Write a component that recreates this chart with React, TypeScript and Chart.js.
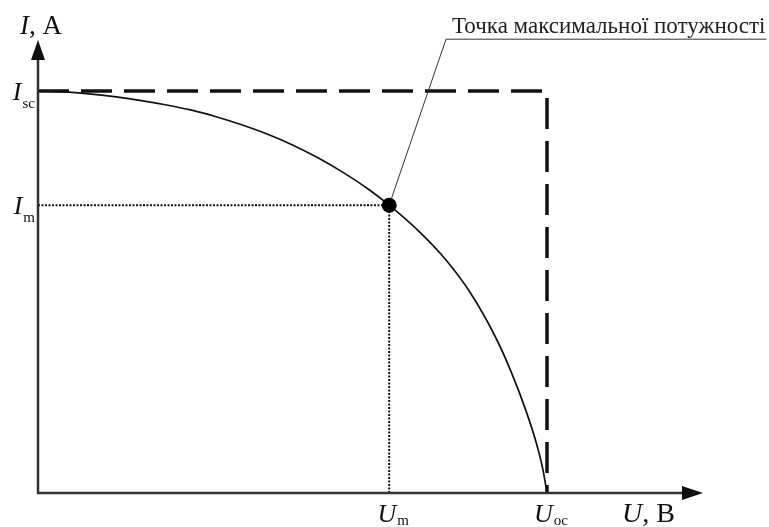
import { useEffect, useRef } from "react";
import { Chart, registerables } from "chart.js";
Chart.register(...registerables);

// I-V curve (normalised: Uoc = 1, Isc = 1)
const curveU = [0, 0.05, 0.1, 0.15, 0.2, 0.25, 0.3, 0.35, 0.4, 0.45, 0.5, 0.55, 0.6, 0.65, 0.69, 0.75, 0.8, 0.85, 0.9, 0.93, 0.96, 0.98, 0.992, 1.0];
const curveI = [1.0, 0.998, 0.993, 0.986, 0.977, 0.966, 0.953, 0.936, 0.916, 0.893, 0.866, 0.834, 0.797, 0.755, 0.716, 0.649, 0.582, 0.497, 0.385, 0.3, 0.2, 0.12, 0.058, 0];

const Isc = 1;
const Uoc = 1;
const Um = 0.69;
const Im = 0.716;
const xMax = 1.3065;
const yMax = 1.127;

const yTickValues = [Isc, Im];
const yTickLabels = [["I", "sc"], ["I", "m"]];
const xTickValues = [Um, Uoc];
const xTickLabels = [["U", "m"], ["U", "oc"]];
const yAxisTitle = ["I", ", A"];
const xAxisTitle = ["U", ", B"];
const annotationText = "Точка максимальної потужності";
const annotationAnchor = { x: 0.8016, y: 1.129 };

const SERIF = "'Liberation Serif', 'DejaVu Serif', serif";
const MAIN_FONT = `italic 26px ${SERIF}`;
const SUB_FONT = `15px ${SERIF}`;

function drawComposite(ctx: CanvasRenderingContext2D, parts: string[], x: number, baseline: number, align: "left" | "right" | "center", subDrop: number, subFont: string) {
  ctx.font = MAIN_FONT;
  const w1 = ctx.measureText(parts[0]).width;
  ctx.font = subFont;
  const w2 = ctx.measureText(parts[1]).width;
  const total = w1 + 1 + w2;
  let x0 = x;
  if (align === "right") x0 = x - total;
  if (align === "center") x0 = x - total / 2;
  ctx.textAlign = "left";
  ctx.textBaseline = "alphabetic";
  ctx.font = MAIN_FONT;
  ctx.fillText(parts[0], x0, baseline);
  ctx.font = subFont;
  ctx.fillText(parts[1], x0 + w1 + 1, baseline + subDrop);
}

const overlay = {
  id: "overlay",
  afterDatasetsDraw(chart: any) {
    const ctx: CanvasRenderingContext2D = chart.ctx;
    const xs = chart.scales.x;
    const ys = chart.scales.y;
    const area = chart.chartArea;
    const left = xs.getPixelForValue(0);
    const bottom = ys.getPixelForValue(0);
    const top = area.top;
    const right = area.right;
    ctx.save();
    ctx.strokeStyle = "#333";
    ctx.fillStyle = "#111";
    ctx.lineWidth = 2.5;
    ctx.setLineDash([]);
    ctx.beginPath();
    ctx.moveTo(left, bottom + 1);
    ctx.lineTo(left, top + 15);
    ctx.moveTo(left - 1, bottom);
    ctx.lineTo(right - 15, bottom);
    ctx.stroke();
    // arrows
    ctx.beginPath();
    ctx.moveTo(left, top);
    ctx.lineTo(left - 7, top + 20);
    ctx.lineTo(left + 7, top + 20);
    ctx.closePath();
    ctx.fill();
    ctx.beginPath();
    ctx.moveTo(right, bottom);
    ctx.lineTo(right - 21, bottom - 7);
    ctx.lineTo(right - 21, bottom + 7);
    ctx.closePath();
    ctx.fill();

    // y tick labels
    yTickValues.forEach((v, i) => {
      const py = ys.getPixelForValue(v);
      drawComposite(ctx, yTickLabels[i], left - 3, py + 9, "right", 8, SUB_FONT);
    });
    // x tick labels
    xTickValues.forEach((v, i) => {
      const px = xs.getPixelForValue(v);
      drawComposite(ctx, xTickLabels[i], px + 4, bottom + 29, "center", 3, SUB_FONT);
    });
    // axis titles
    ctx.textAlign = "left";
    ctx.font = `italic 27px ${SERIF}`;
    const yw = ctx.measureText(yAxisTitle[0]).width;
    ctx.fillText(yAxisTitle[0], left - 18, top - 6);
    ctx.font = `27px ${SERIF}`;
    ctx.fillText(yAxisTitle[1], left - 18 + yw, top - 6);
    ctx.font = `italic 28px ${SERIF}`;
    const xw = ctx.measureText(xAxisTitle[0]).width;
    ctx.fillText(xAxisTitle[0], right - 81, bottom + 29);
    ctx.font = `28px ${SERIF}`;
    ctx.fillText(xAxisTitle[1], right - 81 + xw, bottom + 29);

    // annotation
    const ax = xs.getPixelForValue(annotationAnchor.x);
    const ay = ys.getPixelForValue(annotationAnchor.y);
    const mx = xs.getPixelForValue(Um);
    const my = ys.getPixelForValue(Im);
    ctx.font = `23px ${SERIF}`;
    const tw = ctx.measureText(annotationText).width;
    ctx.fillStyle = "#222";
    ctx.fillText(annotationText, ax + 6, ay - 6);
    ctx.strokeStyle = "#333";
    ctx.lineWidth = 1;
    ctx.beginPath();
    ctx.moveTo(ax + tw + 7, ay);
    ctx.lineTo(ax, ay);
    ctx.lineTo(mx + 2, my - 6);
    ctx.stroke();
    ctx.restore();
  },
};

export default function App() {
  const ref = useRef<HTMLCanvasElement | null>(null);
  useEffect(() => {
    document.body.style.margin = "0";
    const canvas = ref.current;
    if (!canvas) return;
    const chart = new Chart(canvas, {
      type: "scatter",
      data: {
        datasets: [
          {
            data: [{ x: Um, y: Im }],
            pointRadius: 7.5,
            pointBackgroundColor: "#000",
            pointBorderWidth: 0,
            showLine: false,
            order: 0,
            clip: false,
          } as any,
          {
            data: curveU.map((u, i) => ({ x: u, y: curveI[i] })),
            showLine: true,
            borderColor: "#111",
            borderWidth: 1.7,
            pointRadius: 0,
            cubicInterpolationMode: "monotone",
            order: 1,
            clip: false,
          },
          {
            data: [
              { x: 0, y: Isc },
              { x: Uoc, y: Isc },
              { x: Uoc, y: 0 },
            ],
            showLine: true,
            borderColor: "#111",
            borderWidth: 3.5,
            borderDash: [31, 12],
            borderJoinStyle: "miter",
            pointRadius: 0,
            order: 2,
            clip: false,
          },
          {
            data: [
              { x: 0, y: Im },
              { x: Um, y: Im },
              { x: Um, y: 0 },
            ],
            showLine: true,
            borderColor: "#111",
            borderWidth: 2,
            borderDash: [2, 1.5],
            pointRadius: 0,
            order: 3,
            clip: false,
          },
        ],
      },
      options: {
        animation: false,
        responsive: false,
        events: [],
        layout: { padding: { left: 38, right: 66, top: 40, bottom: 34 } },
        plugins: { legend: { display: false }, tooltip: { enabled: false } },
        scales: {
          x: { type: "linear", min: 0, max: xMax, display: false },
          y: { type: "linear", min: 0, max: yMax, display: false },
        },
      },
      plugins: [overlay],
    });
    return () => chart.destroy();
  }, []);
  return <canvas ref={ref} width={769} height={527} style={{ display: "block" }} />;
}
